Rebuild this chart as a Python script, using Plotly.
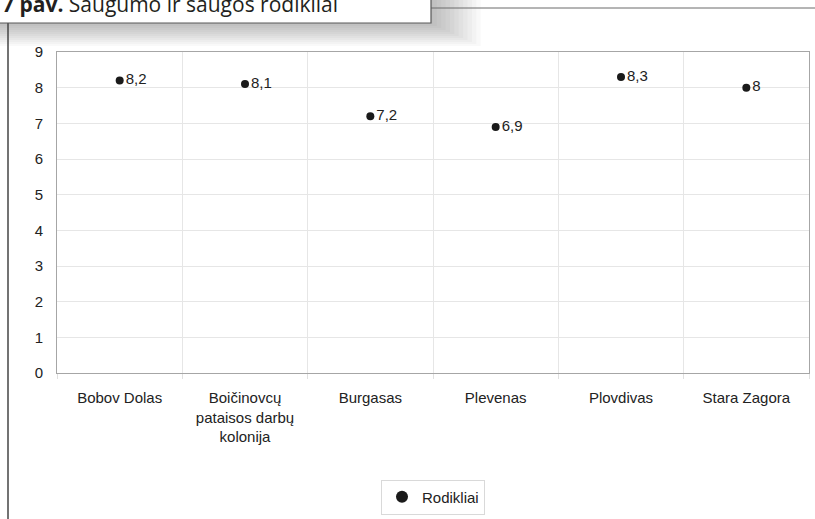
import plotly.graph_objects as go

categories = ["Bobov Dolas", "Boičinovcų<br>pataisos darbų<br>kolonija", "Burgasas",
              "Plevenas", "Plovdivas", "Stara Zagora"]
values = [8.2, 8.1, 7.2, 6.9, 8.3, 8.0]
labels = ["8,2", "8,1", "7,2", "6,9", "8,3", "8"]
series_name = "Rodikliai"
y_ticks = [0, 1, 2, 3, 4, 5, 6, 7, 8, 9]
title_bold = "7 pav."
title_rest = "Saugumo ir saugos rodikliai"

W, H = 815, 519
L, R, T, B = 57, 809, 52, 373


def px(x):
    return (x - L) / (R - L)


def py(y):
    return (B - y) / (B - T)


fig = go.Figure()
fig.add_trace(go.Scatter(
    x=categories, y=values, mode="markers+text", name=series_name,
    text=labels, textposition="middle right",
    textfont=dict(family="Liberation Sans, Arial", size=15, color="#222222"),
    marker=dict(color="#1a1a1a", size=8),
    cliponaxis=False,
))

shapes = []
# drop shadow of the title box
for i in range(1, 13):
    d = 2 * i
    shapes.append(dict(type="rect", xref="paper", yref="paper",
                       x0=px(-20), x1=px(428 + 2.2 * d), y0=py(-20), y1=py(22 + d),
                       fillcolor="rgba(0,0,0,0.024)", line=dict(width=0), layer="below"))
# top line to the right of the box
shapes.append(dict(type="line", xref="paper", yref="paper",
                   x0=px(431), x1=px(815), y0=py(8), y1=py(8),
                   line=dict(color="#6b6b6b", width=1)))
# left vertical line
shapes.append(dict(type="line", xref="paper", yref="paper",
                   x0=px(8), x1=px(8), y0=py(23), y1=py(520),
                   line=dict(color="#444444", width=1.5)))
# title box
shapes.append(dict(type="rect", xref="paper", yref="paper",
                   x0=px(-20), x1=px(431), y0=py(-20), y1=py(23),
                   fillcolor="white", line=dict(color="#5a5a5a", width=1.2)))

annotations = [dict(
    xref="paper", yref="paper", x=px(0), y=py(4), xanchor="left", yanchor="middle",
    text="<b>" + title_bold + "</b> " + title_rest, showarrow=False,
    font=dict(family="Open Sans", size=21, color="#231f20"))]

fig.update_layout(
    width=W, height=H,
    margin=dict(l=L, r=W - R, t=T, b=H - B, pad=0, autoexpand=False),
    paper_bgcolor="white", plot_bgcolor="white",
    font=dict(family="Liberation Sans, Arial", size=15, color="#222222"),
    shapes=shapes, annotations=annotations,
    showlegend=True,
    legend=dict(orientation="h", x=0.5, xanchor="center", y=py(497), yanchor="middle",
                bordercolor="#d9d9d9", borderwidth=1, bgcolor="white",
                font=dict(size=15, color="#222222"), itemsizing="constant",
                itemwidth=30, tracegroupgap=0),
    xaxis=dict(type="category", range=[-0.5, len(categories) - 0.5],
               showgrid=True, gridcolor="#e6e6e6", gridwidth=1,
               tickson="boundaries", ticks="outside", ticklen=5, tickcolor="#e0e0e0",
               showline=True, linecolor="#a6a6a6", linewidth=1, mirror=True,
               tickfont=dict(size=15, color="#222222"), zeroline=False,
               ticklabelstandoff=11, automargin=False),
    yaxis=dict(range=[0, 9], tickvals=y_ticks, showgrid=True, gridcolor="#e6e6e6",
               ticks="", showline=True, linecolor="#a6a6a6", linewidth=1, mirror=True,
               tickfont=dict(size=15, color="#222222"), zeroline=False,
               ticklabelstandoff=10, automargin=False),
)

fig.write_html("out.html", config={"displayModeBar": False},
               post_script="document.body.style.margin='0';document.body.style.overflow='hidden';")
